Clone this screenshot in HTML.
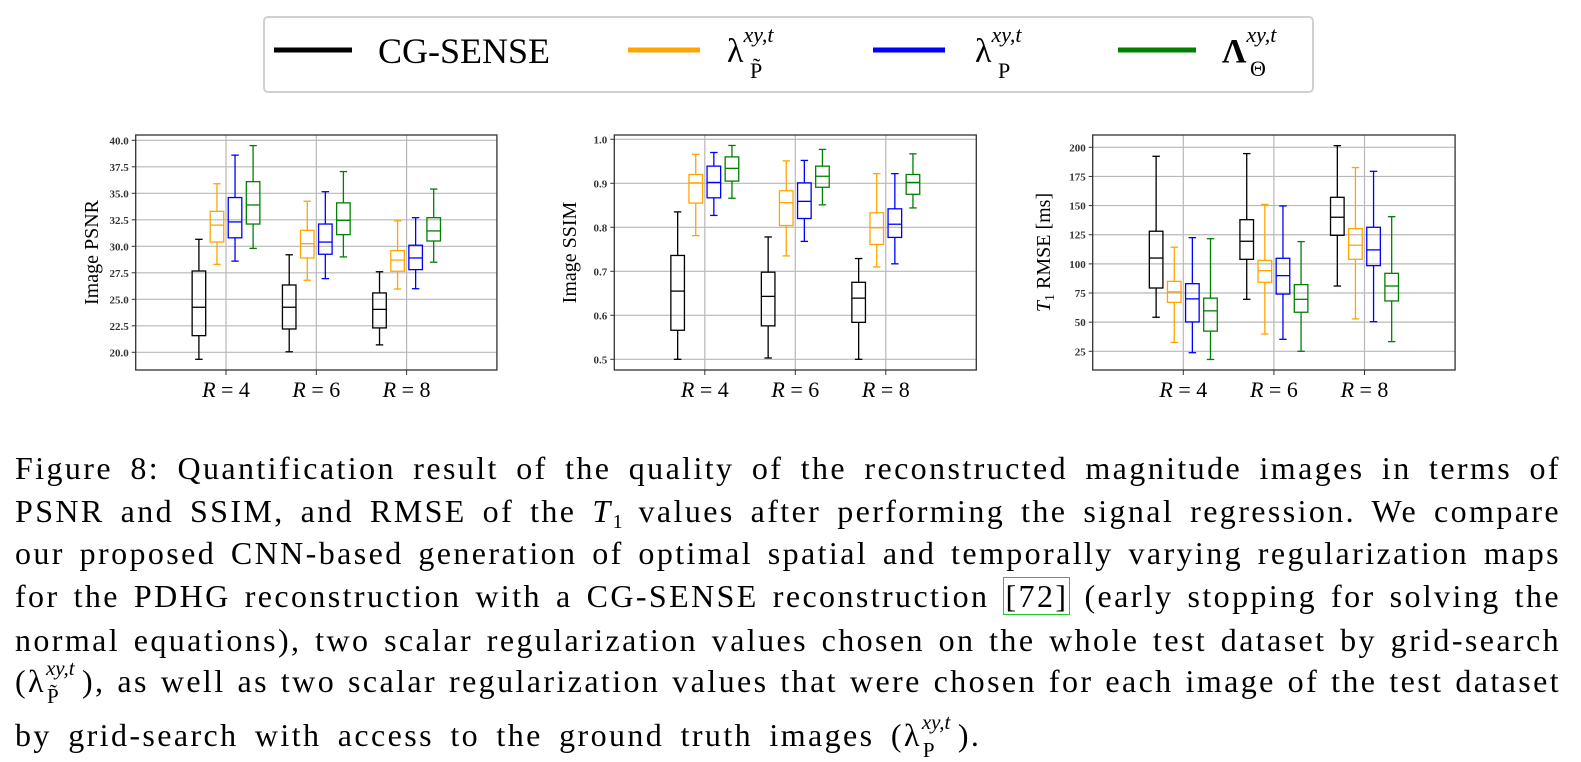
<!DOCTYPE html>
<html><head><meta charset="utf-8">
<style>
body{margin:0;background:#fff;width:1581px;height:762px;overflow:hidden;position:relative;font-family:"Liberation Serif",serif;}
.cap{position:absolute;left:15px;width:1546px;font-size:32px;letter-spacing:2.4px;line-height:1;white-space:nowrap;text-align:justify;text-align-last:justify;color:#000;}
.sub{font-size:20px;vertical-align:-6px;letter-spacing:0;}
.ss{display:inline-block;position:relative;width:36px;height:20px;letter-spacing:0;}
.ss .u{position:absolute;left:0px;top:-14px;font-size:21px;font-style:italic;}
.ss .d{position:absolute;left:1px;top:14px;font-size:21px;}
.ref{border:1.5px solid #2c2;padding:0 1px;}
</style></head><body>
<svg id="fig" width="1581" height="440" style="position:absolute;left:0;top:0" font-family="Liberation Serif, serif">
 <g>
  <rect x="264" y="17" width="1049" height="75" rx="4" fill="#fff" stroke="#d0d0d0" stroke-width="2"/>
  <line x1="274" y1="50" x2="352" y2="50" stroke="#000" stroke-width="5"/>
  <text x="378" y="63" font-size="36">CG-SENSE</text>
  <line x1="628" y1="50" x2="700" y2="50" stroke="orange" stroke-width="5"/>
  <text x="727" y="62" font-size="34">λ<tspan font-size="22" font-style="italic" dy="-20">xy,t</tspan><tspan font-size="22" x="750" dy="36">P̃</tspan></text>
  <line x1="873" y1="50" x2="945" y2="50" stroke="#00f" stroke-width="5"/>
  <text x="975" y="62" font-size="34">λ<tspan font-size="22" font-style="italic" dy="-20">xy,t</tspan><tspan font-size="22" x="998" dy="36">P</tspan></text>
  <line x1="1118" y1="50" x2="1196" y2="50" stroke="green" stroke-width="5"/>
  <text x="1222" y="62" font-size="34" font-weight="bold">Λ<tspan font-size="22" font-weight="normal" font-style="italic" dy="-20">xy,t</tspan><tspan font-size="22" font-weight="normal" x="1250" dy="34">Θ</tspan></text>
 </g>
</svg>

<div class="cap" style="top:452px">Figure 8: Quantification result of the quality of the reconstructed magnitude images in terms of</div>
<div class="cap" style="top:495px">PSNR and SSIM, and RMSE of the <i>T</i><span class="sub">1</span> values after performing the signal regression. We compare</div>
<div class="cap" style="top:537px">our proposed CNN-based generation of optimal spatial and temporally varying regularization maps</div>
<div class="cap" style="top:580px">for the PDHG reconstruction with a CG-SENSE reconstruction <span class="ref">[72]</span> (early stopping for solving the</div>
<div class="cap" style="top:624px">normal equations), two scalar regularization values chosen on the whole test dataset by grid-search</div>
<div class="cap" style="top:665px">(λ<span class="ss"><span class="u">xy,t</span><span class="d">P̃</span></span>), as well as two scalar regularization values that were chosen for each image of the test dataset</div>
<div class="cap" style="top:719px;text-align-last:left;width:auto;word-spacing:6px">by grid-search with access to the ground truth images (λ<span class="ss"><span class="u">xy,t</span><span class="d">P</span></span>).</div>

<script>
const categories = ["R = 4","R = 6","R = 8"];
const seriesNames = ["CG-SENSE","lambda-ptilde","lambda-p","lambda-theta"];
const seriesColors = ["#000","orange","#00f","green"];
// each: [whiskerLow, q1, median, q3, whiskerHigh] per category
const psnrCG = [[19.34,21.57,24.25,27.67,30.66],[20.05,22.2,24.25,26.35,29.2],[20.7,22.3,24.05,25.6,27.6]];
const psnrLPt = [[28.3,30.4,32.0,33.3,35.9],[26.8,28.9,30.25,31.5,34.25],[25.97,27.65,28.7,29.6,32.4]];
const psnrLP = [[28.6,30.8,32.3,34.6,38.6],[26.95,29.25,30.4,32.1,35.15],[26.0,27.8,28.9,30.1,32.7]];
const psnrLT = [[29.8,32.1,33.9,36.1,39.5],[29.0,31.1,32.45,34.1,37.05],[28.5,30.5,31.45,32.7,35.4]];
const ssimCG = [[0.5,0.566,0.655,0.736,0.835],[0.503,0.576,0.643,0.698,0.778],[0.5,0.584,0.639,0.675,0.729]];
const ssimLPt = [[0.781,0.855,0.901,0.920,0.966],[0.735,0.804,0.856,0.883,0.951],[0.710,0.761,0.799,0.833,0.922]];
const ssimLP = [[0.827,0.867,0.902,0.939,0.970],[0.768,0.820,0.859,0.901,0.952],[0.717,0.777,0.807,0.842,0.922]];
const ssimLT = [[0.866,0.905,0.934,0.960,0.986],[0.851,0.891,0.916,0.939,0.977],[0.844,0.875,0.902,0.920,0.967]];
const rmseCG = [[54.2,79.3,105,128,192.3],[69.6,103.9,119.4,137.9,194.6],[81,124.5,140,157.1,201.4]];
const rmseLPt = [[32.6,67,76,85,114.3],[39.8,84.2,94.2,103,151],[52.8,103.9,116,130.2,182.6]];
const rmseLP = [[23.8,50.2,70,83,122.5],[35.3,74.1,89.9,104.8,149.7],[50.4,98.5,112,131.4,179.4]];
const rmseLT = [[18,42.3,59.7,70.6,121.6],[25,58.5,69.6,82.2,119.1],[33.3,68.2,81,91.9,140.5]];
const psnrTicks = ["20.0","22.5","25.0","27.5","30.0","32.5","35.0","37.5","40.0"];
const ssimTicks = ["0.5","0.6","0.7","0.8","0.9","1.0"];
const rmseTicks = ["25","50","75","100","125","150","175","200"];

const NS="http://www.w3.org/2000/svg";
const svg=document.getElementById('fig');
function mk(tag,attrs,parent){const e=document.createElementNS(NS,tag);for(const k in attrs)e.setAttribute(k,attrs[k]);parent.appendChild(e);return e;}

function drawChart(cfg){
  const g=mk('g',{},svg);
  
  
  const L=cfg.left,R=cfg.left+4*cfg.unit,T=135,B=370;
  const xs=v=>L+v*cfg.unit;
  const ys=v=>cfg.y0+(v-cfg.v0)*(cfg.y1-cfg.y0)/(cfg.v1-cfg.v0);
  cfg.ticks.forEach(t=>{const y=ys(parseFloat(t));
    const gl=mk('line',{x1:L,x2:R,y1:y,y2:y,stroke:'#b8b8b8','stroke-width':1.2},g);
    
    
    mk('line',{x1:L-4,x2:L,y1:y,y2:y,stroke:'#333','stroke-width':1},g);
    const tx=mk('text',{x:L-7,y:y+4,'font-size':11,'text-anchor':'end','font-weight':'bold',fill:'#333'},g);
    tx.textContent=t;
    
    
  });
  categories.forEach((c,i)=>{const x=xs(i+1);
    const gl=mk('line',{x1:x,x2:x,y1:T,y2:B,stroke:'#b8b8b8','stroke-width':1.2},g);
    
    
    mk('line',{x1:x,x2:x,y1:B,y2:B+5,stroke:'#333','stroke-width':1},g);
    const tx=mk('text',{x:x,y:B+27,'font-size':22,'text-anchor':'middle'},g);
    tx.innerHTML='<tspan font-style="italic">R</tspan> = '+c.split('= ')[1];
    
    
  });
  const offs=[-0.3,-0.1,0.1,0.3];
  cfg.series.forEach((data,s)=>{
    data.forEach((d,i)=>{
      const cx=xs(i+1+offs[s]),hw=cfg.unit*0.075,cw=hw*0.55,col=seriesColors[s];
      const bg=mk('g',{stroke:col,'stroke-width':1.3,fill:'none'},g);
      
      
      mk('line',{x1:cx,x2:cx,y1:ys(d[0]),y2:ys(d[1])},bg);
      mk('line',{x1:cx,x2:cx,y1:ys(d[3]),y2:ys(d[4])},bg);
      mk('line',{x1:cx-cw,x2:cx+cw,y1:ys(d[0]),y2:ys(d[0])},bg);
      mk('line',{x1:cx-cw,x2:cx+cw,y1:ys(d[4]),y2:ys(d[4])},bg);
      mk('rect',{x:cx-hw,y:ys(d[3]),width:2*hw,height:ys(d[1])-ys(d[3])},bg);
      mk('line',{x1:cx-hw,x2:cx+hw,y1:ys(d[2]),y2:ys(d[2])},bg);
    });
  });
  const fr=mk('rect',{x:L,y:T,width:R-L,height:B-T,fill:'none',stroke:'#333','stroke-width':1.3},g);
  
  
  const yl=mk('text',{x:0,y:0,'font-size':20,'text-anchor':'middle',transform:`translate(${cfg.labelX},${(T+B)/2}) rotate(-90)`},g);
  yl.innerHTML=cfg.label;
  
  
}
drawChart({name:'psnr-chart',left:135.7,unit:90.3,y0:352.3,v0:20,y1:140.3,v1:40,ticks:psnrTicks,series:[psnrCG,psnrLPt,psnrLP,psnrLT],label:'Image PSNR',labelX:98});
drawChart({name:'ssim-chart',left:614.3,unit:90.5,y0:359.3,v0:0.5,y1:139.3,v1:1.0,ticks:ssimTicks,series:[ssimCG,ssimLPt,ssimLP,ssimLT],label:'Image SSIM',labelX:576});
drawChart({name:'rmse-chart',left:1092.7,unit:90.6,y0:351.3,v0:25,y1:147.3,v1:200,ticks:rmseTicks,series:[rmseCG,rmseLPt,rmseLP,rmseLT],label:'<tspan font-style="italic">T</tspan><tspan font-size="14" dy="4">1</tspan><tspan dy="-4"> RMSE [ms]</tspan>',labelX:1050});
</script>
</body></html>
